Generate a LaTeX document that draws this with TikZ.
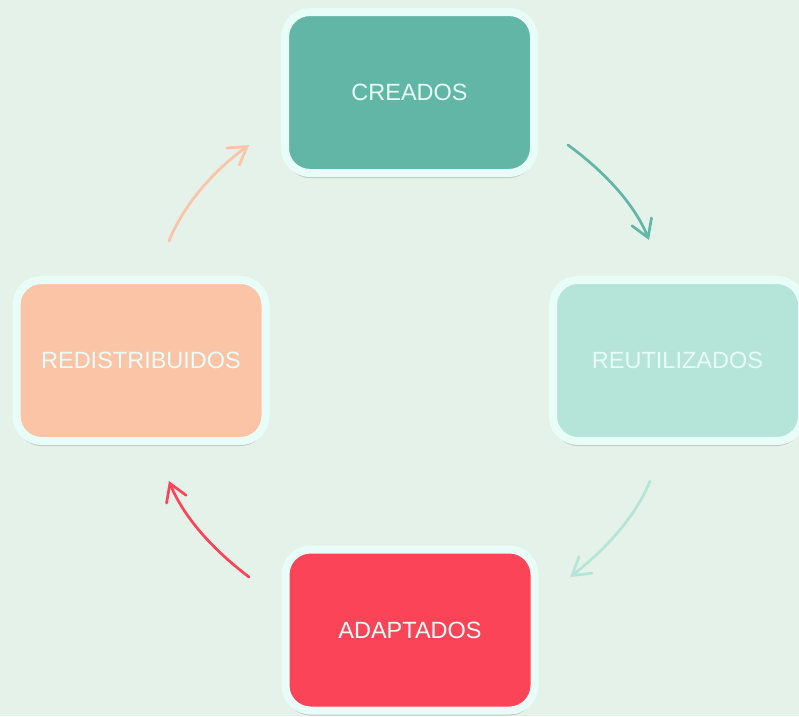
\documentclass[tikz,border=0pt]{standalone}
\usepackage{fontspec}
\setmainfont{Liberation Sans}
\usetikzlibrary{arrows.meta,shadows}
\definecolor{bgc}{HTML}{E5F2EA}
\definecolor{rimc}{HTML}{E8FDF7}
\definecolor{creac}{HTML}{62B6A5}
\definecolor{reutc}{HTML}{B5E4D9}
\definecolor{redic}{HTML}{FBC4A6}
\definecolor{adapc}{HTML}{FC4459}
\tikzset{
  cardbox/.style={rectangle, rounded corners=25pt, minimum width=249pt, minimum height=161pt,
    line width=8pt, draw=rimc, text=rimc, inner sep=0pt,
    font=\fontsize{23.5}{28}\selectfont,
    drop shadow={shadow xshift=0pt, shadow yshift=-5pt, opacity=0.3, fill=black!60}},
  cyclearrow/.style={line width=2.7pt, line cap=round, -{Straight Barb[length=17pt,width=21pt,line cap=round]}}
}
\begin{document}
\begin{tikzpicture}[x=1pt,y=-1pt]
\fill[bgc] (0,0) rectangle (799,716);
\useasboundingbox (0,0) rectangle (799,716);
\node[cardbox, fill=creac] (cre) at (409.5,92.5) {CREADOS};
\node[cardbox, fill=reutc] (reu) at (677.5,360.5) {REUTILIZADOS};
\node[cardbox, fill=redic] (red) at (141,360.5) {REDISTRIBUIDOS};
\node[cardbox, fill=adapc] (ada) at (410,630) {ADAPTADOS};
\coordinate (a1s) at (568,145);
\coordinate (a1e) at (649,240);
\coordinate (a2s) at (650,481);
\coordinate (a2e) at (570,577);
\coordinate (a3s) at (249,577);
\coordinate (a3e) at (169,481);
\coordinate (a4s) at (169,241);
\coordinate (a4e) at (249,145);
\draw[cyclearrow, draw=creac] (a1s) .. controls (605,172) and (635,205) .. (a1e);
\draw[cyclearrow, draw=reutc] (a2s) .. controls (636,516) and (606,549) .. (a2e);
\draw[cyclearrow, draw=adapc] (a3s) .. controls (212,549) and (183,516) .. (a3e);
\draw[cyclearrow, draw=redic] (a4s) .. controls (183,206) and (212,172) .. (a4e);
\end{tikzpicture}
\end{document}
